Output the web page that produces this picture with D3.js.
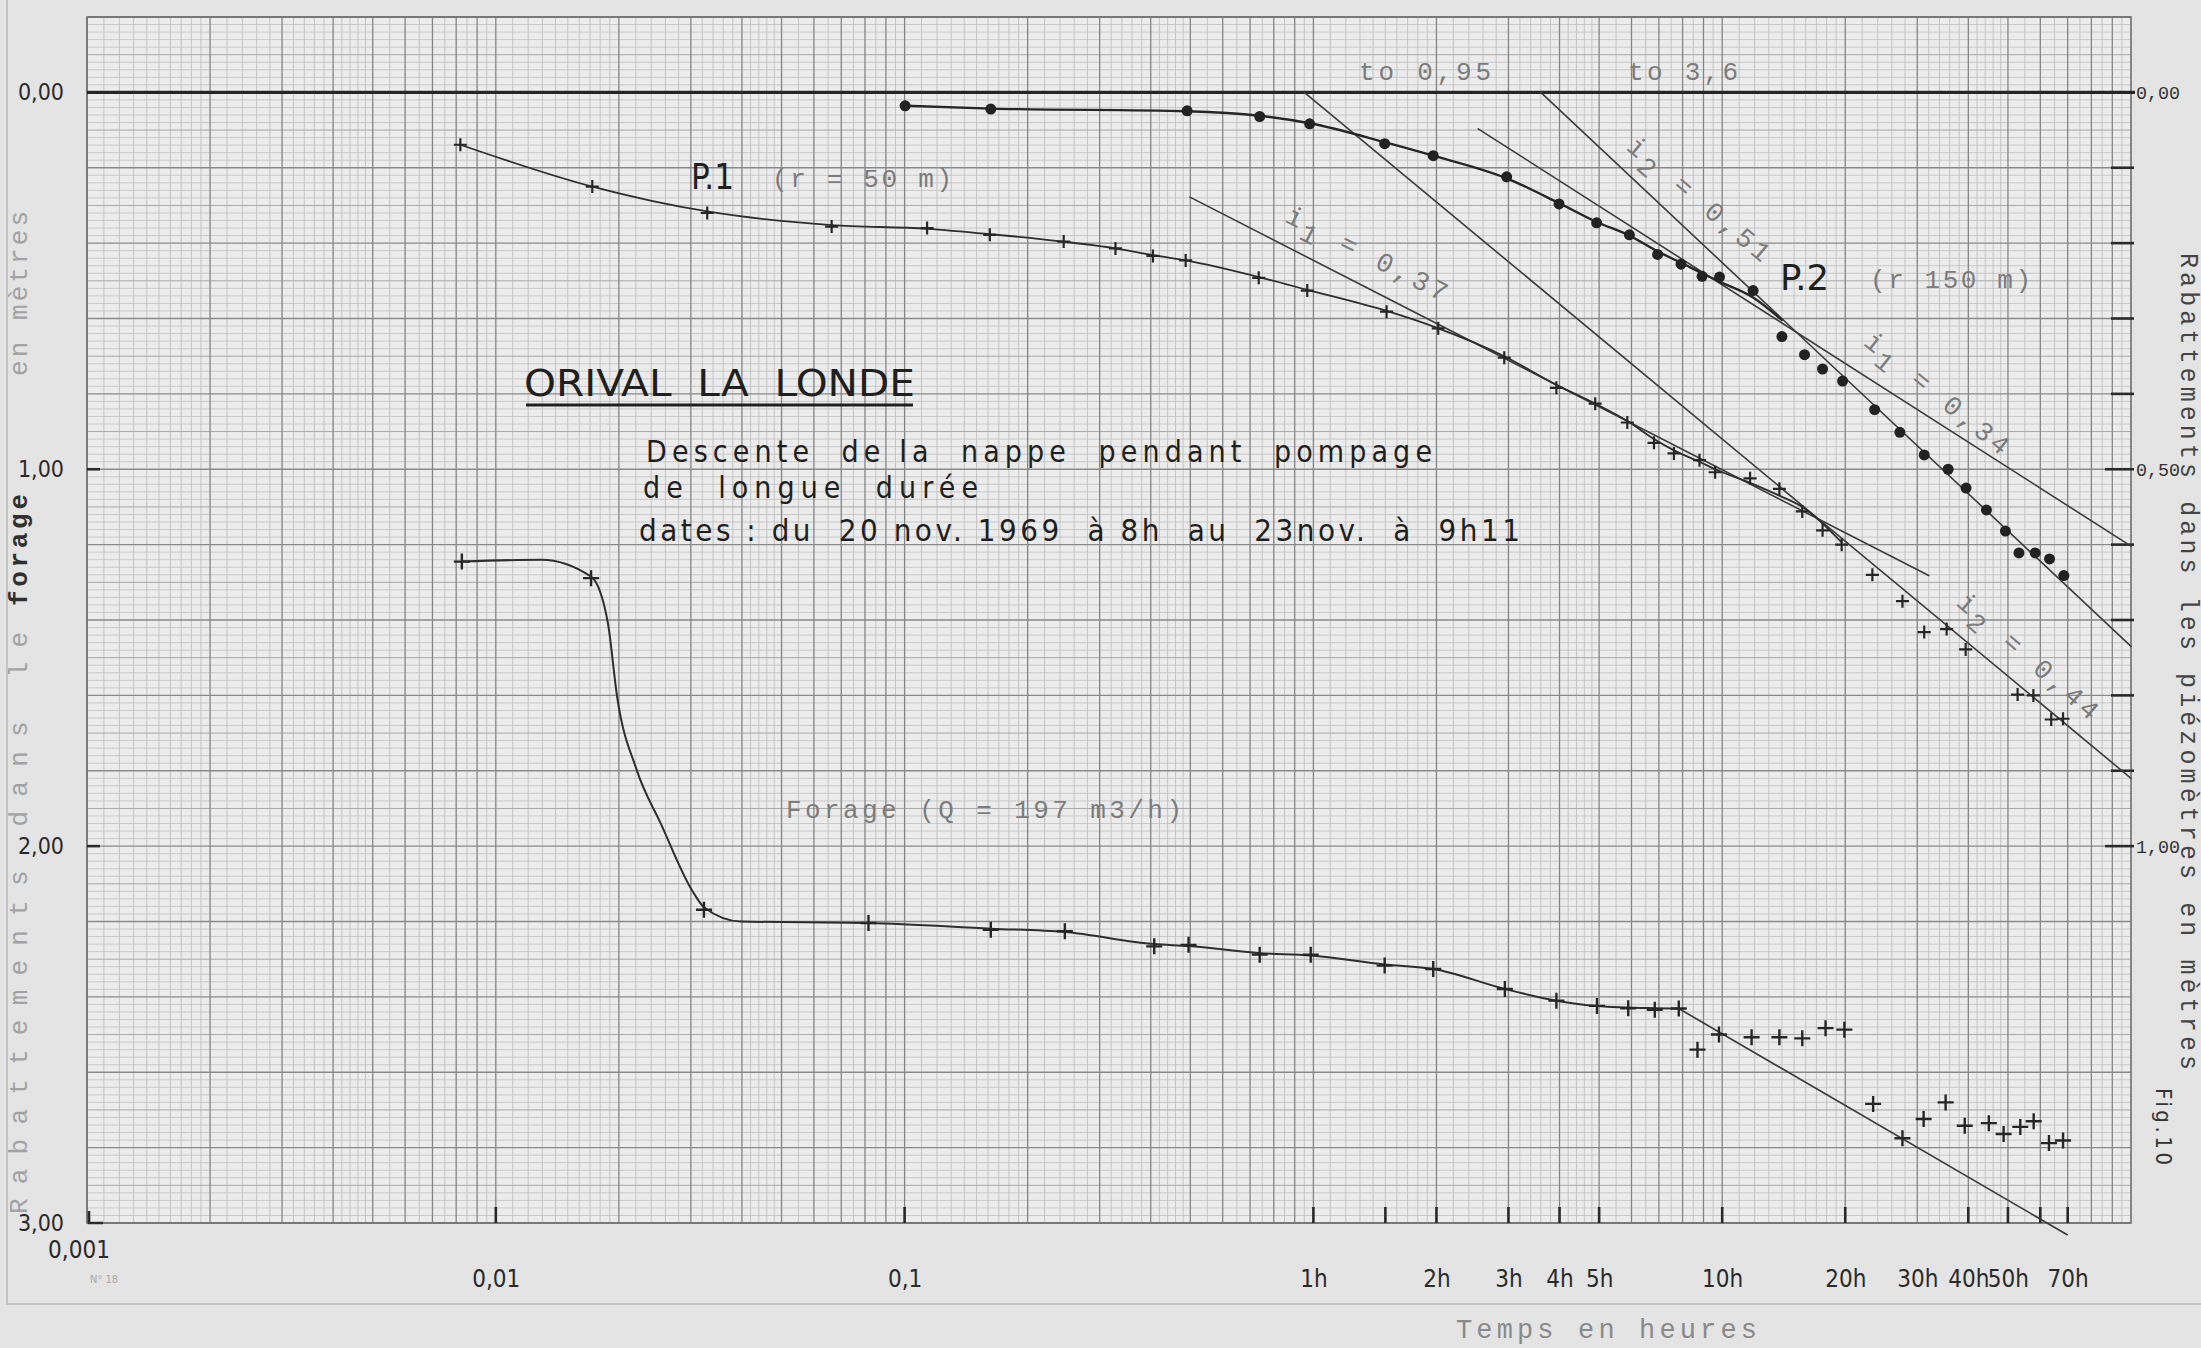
<!DOCTYPE html>
<html>
<head>
<meta charset="utf-8">
<script src="https://cdn.jsdelivr.net/npm/d3@7"></script>
<style>
  body { margin: 0; background: #e4e4e4; }
  svg { display: block; }
  .mono { font-family: 'Liberation Mono', 'DejaVu Sans Mono', monospace; }
  .tech { font-family: 'Liberation Sans Narrow', 'DejaVu Sans Condensed', 'Liberation Sans', sans-serif; }
</style>
</head>
<body>
<div id="chart"></div>
<script>
// ---- data (time in hours, drawdown in metres) ----

// forage : left scale
const forageObs = [[0.00826,1.245],[0.0171,1.289],[0.0323,2.169],[0.0816,2.204],[0.1625,2.222],[0.2466,2.226],
  [0.408,2.266],[0.495,2.262],[0.739,2.288],[0.985,2.288],[1.494,2.317],[1.964,2.326],[2.94,2.379],[3.93,2.410],
  [4.94,2.424],[5.89,2.430],[6.84,2.434],[7.83,2.431],[8.70,2.540],[9.82,2.500],[11.8,2.507],[13.8,2.507],
  [15.7,2.510],[17.9,2.483],[19.9,2.487],[23.4,2.684],[27.6,2.775],[31.1,2.724],[35.2,2.680],[39.2,2.742],
  [44.9,2.735],[48.8,2.764],[53.6,2.745],[57.8,2.730],[63.0,2.788],[68.2,2.781]];
const forageCurve = [[0.00826,1.245],[0.0129,1.240],[0.0171,1.285],[0.0188,1.408],[0.0198,1.603],[0.0221,1.797],
  [0.0253,1.939],[0.0305,2.125],[0.0323,2.162],[0.0398,2.200],[0.0816,2.204],[0.1625,2.219],[0.2466,2.228],
  [0.408,2.260],[0.495,2.265],[0.739,2.284],[0.985,2.290],[1.494,2.314],[1.964,2.326],[2.94,2.379],[3.93,2.410],
  [4.94,2.424],[6.84,2.430],[7.83,2.431]];
const forageLine = [[7.83,2.431],[69.8,3.031]];

// piezometres : right scale
const p1Obs = [[0.00819,0.0695],[0.01722,0.125],[0.0329,0.160],[0.0663,0.178],[0.1135,0.180],[0.1616,0.189],
  [0.245,0.198],[0.328,0.207],[0.405,0.217],[0.487,0.223],[0.735,0.246],[0.966,0.263],[1.51,0.291],[2.02,0.313],
  [2.93,0.352],[3.93,0.392],[4.89,0.413],[5.86,0.438],[6.81,0.465],[7.62,0.479],[8.80,0.488],[9.61,0.504],
  [11.7,0.512],[13.8,0.526],[15.7,0.556],[17.6,0.581],[19.6,0.600],[23.3,0.640],[27.6,0.675],[31.2,0.716],
  [35.4,0.712],[39.4,0.739],[52.8,0.799],[57.7,0.800],[63.8,0.832],[68.2,0.831]];
const p1Curve = [[0.00819,0.0695],[0.01722,0.125],[0.0329,0.158],[0.0663,0.176],[0.1135,0.181],[0.1616,0.188],
  [0.245,0.198],[0.328,0.207],[0.405,0.216],[0.487,0.223],[0.735,0.245],[0.966,0.262],[1.51,0.290],[2.02,0.313],
  [2.93,0.350],[3.93,0.388],[4.89,0.413],[5.86,0.436],[6.81,0.460],[7.62,0.475],[8.80,0.490],[9.61,0.500],
  [11.7,0.518],[13.8,0.535],[15.7,0.550],[19.6,0.597]];

const p2Obs = [[0.1003,0.0178],[0.1625,0.0222],[0.491,0.0244],[0.739,0.032],[0.979,0.0417],[1.494,0.068],
  [1.964,0.084],[2.97,0.112],[3.99,0.148],[4.93,0.173],[5.93,0.189],[6.95,0.215],[7.93,0.228],[8.93,0.244],
  [9.85,0.245],[11.9,0.263],[14.0,0.324],[15.9,0.348],[17.6,0.367],[19.7,0.383],[23.6,0.421],[27.2,0.451],
  [31.2,0.481],[35.7,0.500],[39.5,0.525],[44.3,0.554],[49.3,0.582],[53.2,0.611],[58.3,0.611],[63.2,0.619],
  [68.5,0.641]];
const p2Curve = [[0.1003,0.0178],[0.1625,0.0215],[0.491,0.0250],[0.739,0.031],[0.979,0.041],[1.494,0.066],
  [1.964,0.084],[2.97,0.114],[3.99,0.147],[4.93,0.172],[5.93,0.190],[6.95,0.211],[7.93,0.226],[8.93,0.240],
  [9.85,0.251],[11.9,0.272],[14.0,0.302]];

// straight interpretation lines (right scale)
const t095Line = [[0.95,0],[100,0.910]];
const t36Line = [[3.6,0],[100,0.735]];
const p1Tangent = [[0.499,0.139],[32,0.641]];
const p2Tangent = [[2.53,0.0484],[100,0.602]];

// axes
const bottomTickVals = [0.01,0.1,1,1.5,2,3,4,5,10,20,40,50,60,70];
const bottomLabelVals = [0.01,0.1,1,2,3,4,5,10,20,30,40,50,70];
const bottomLabels = ['0,01','0,1','1h','2h','3h','4h','5h','10h','20h','30h','40h','50h','70h'];
const leftLabelVals = [0,1,2,3];
const leftLabels = ['0,00','1,00','2,00','3,00'];
const rightLabelVals = [0,0.5,1];
const rightLabels = ['0,00','0,50','1,00'];
const rightTickVals = [0.1,0.2,0.3,0.4,0.5,0.6,0.7,0.8,0.9,1.0];

// ---- layout ----
const W = 2201, H = 1348;
const X0 = 87, X1 = 2131, Y0 = 17, Y1 = 1223;

const x = d3.scaleLog().domain([0.001, 100]).range([X0, X1]);
const yL = d3.scaleLinear().domain([-0.2, 3.0]).range([Y0, Y1]);
const yR = d3.scaleLinear().domain([-0.1, 1.5]).range([Y0, Y1]);

const svg = d3.select('#chart').append('svg')
  .attr('width', W).attr('height', H);

svg.append('rect').attr('width', W).attr('height', H).attr('fill', '#e4e4e4');

// paper edge
svg.append('path').attr('d', `M7,0V1304H${W}`).attr('fill', 'none')
  .attr('stroke', '#c4c4c4').attr('stroke-width', 2);

svg.append('rect').attr('x', X0).attr('y', Y0).attr('width', X1 - X0).attr('height', Y1 - Y0)
  .attr('fill', '#ececec');

// ---- log / mm grid ----
const vFine = [], vBold = [];
[0.001, 0.01, 0.1, 1, 10].forEach(d => {
  for (let k = 11; k < 20; k++) vFine.push(k / 10 * d);
  for (let k = 22; k < 50; k += 2) if (k % 10) vFine.push(k / 10 * d);
  for (let k = 55; k < 100; k += 10) vFine.push(k / 10 * d);
  for (let k = 1; k < 10; k++) vBold.push(k * d);
});
const hFine = [], hMid = [], hBold = [];
for (let k = -10; k <= 150; k++) {
  const m = k * 0.02;
  if (k % 10 === 0) hBold.push(m); else if (k % 5 === 0) hMid.push(m); else hFine.push(m);
}

const grid = svg.append('g');
grid.selectAll('.vf').data(vFine).join('line')
  .attr('x1', d => x(d)).attr('x2', d => x(d)).attr('y1', Y0).attr('y2', Y1)
  .attr('stroke', '#bababa').attr('stroke-width', 0.8);
grid.selectAll('.hf').data(hFine).join('line')
  .attr('x1', X0).attr('x2', X1).attr('y1', d => yL(d)).attr('y2', d => yL(d))
  .attr('stroke', '#c0c0c0').attr('stroke-width', 0.8);
grid.selectAll('.hm').data(hMid).join('line')
  .attr('x1', X0).attr('x2', X1).attr('y1', d => yL(d)).attr('y2', d => yL(d))
  .attr('stroke', '#a8a8a8').attr('stroke-width', 1);
grid.selectAll('.hb').data(hBold).join('line')
  .attr('x1', X0).attr('x2', X1).attr('y1', d => yL(d)).attr('y2', d => yL(d))
  .attr('stroke', '#8a8a8a').attr('stroke-width', 1.4);
grid.selectAll('.vb').data(vBold).join('line')
  .attr('x1', d => x(d)).attr('x2', d => x(d)).attr('y1', Y0).attr('y2', Y1)
  .attr('stroke', '#858585').attr('stroke-width', 1.3);

svg.append('rect').attr('x', X0).attr('y', Y0).attr('width', X1 - X0).attr('height', Y1 - Y0)
  .attr('fill', 'none').attr('stroke', '#6e6e6e').attr('stroke-width', 1.6);

// zero line
svg.append('line').attr('x1', X0).attr('x2', X1 + 4).attr('y1', yL(0)).attr('y2', yL(0))
  .attr('stroke', '#262626').attr('stroke-width', 3.2);

// ---- tick marks ----
svg.selectAll('.bt').data(bottomTickVals).join('line')
  .attr('x1', d => x(d)).attr('x2', d => x(d)).attr('y1', Y1).attr('y2', Y1 - 16)
  .attr('stroke', '#2a2a2a').attr('stroke-width', 2.6);
svg.selectAll('.lt').data([1, 2]).join('line')
  .attr('x1', X0).attr('x2', X0 + 13).attr('y1', d => yL(d)).attr('y2', d => yL(d))
  .attr('stroke', '#2a2a2a').attr('stroke-width', 2.6);
svg.append('path').attr('d', `M${X0 + 2},${Y1 - 12}V${Y1}H${X0 + 16}`).attr('fill', 'none')
  .attr('stroke', '#2a2a2a').attr('stroke-width', 2.6);
svg.selectAll('.rt').data(rightTickVals).join('line')
  .attr('x1', d => (d === 0.5 || d === 1.0) ? X1 - 26 : X1 - 20).attr('x2', X1 + 3)
  .attr('y1', d => yR(d)).attr('y2', d => yR(d))
  .attr('stroke', '#2a2a2a').attr('stroke-width', 2.6);

// ---- axis labels (d3 axes, no tick lines) ----
const xAxis = d3.axisBottom(x).tickValues(bottomLabelVals)
  .tickFormat((d, i) => bottomLabels[i]).tickSize(0).tickPadding(47);
const xAxisG = svg.append('g').attr('transform', `translate(0,${Y1})`).call(xAxis);
xAxisG.select('.domain').remove();
xAxisG.selectAll('text').attr('class', 'tech').attr('font-size', 24).attr('fill', '#2a2a2a');

svg.append('text').attr('class', 'tech').attr('x', x(0.001) - 8).attr('y', 1258)
  .attr('text-anchor', 'middle').attr('font-size', 24).attr('fill', '#2a2a2a').text('0,001');
svg.append('text').attr('class', 'tech').attr('x', 90).attr('y', 1283)
  .attr('font-size', 11).attr('fill', '#a8a8a8').text('N° 18');

const yAxisL = d3.axisLeft(yL).tickValues(leftLabelVals)
  .tickFormat((d, i) => leftLabels[i]).tickSize(0).tickPadding(23);
const yAxisLG = svg.append('g').attr('transform', `translate(${X0},0)`).call(yAxisL);
yAxisLG.select('.domain').remove();
yAxisLG.selectAll('text').attr('class', 'tech').attr('font-size', 23).attr('fill', '#2a2a2a');

const yAxisR = d3.axisRight(yR).tickValues(rightLabelVals)
  .tickFormat((d, i) => rightLabels[i]).tickSize(0).tickPadding(5);
const yAxisRG = svg.append('g').attr('transform', `translate(${X1},0)`).call(yAxisR);
yAxisRG.select('.domain').remove();
yAxisRG.selectAll('text').attr('class', 'mono').attr('font-size', 19).attr('fill', '#333')
  .attr('textLength', 44).attr('lengthAdjust', 'spacingAndGlyphs');

// ---- curves and lines ----
const smoothL = d3.line().x(d => x(d[0])).y(d => yL(d[1])).curve(d3.curveMonotoneX);
const smoothR = d3.line().x(d => x(d[0])).y(d => yR(d[1])).curve(d3.curveMonotoneX);
const straightL = d3.line().x(d => x(d[0])).y(d => yL(d[1]));
const straightR = d3.line().x(d => x(d[0])).y(d => yR(d[1]));

const marks = svg.append('g').attr('fill', 'none').attr('stroke-linecap', 'round');

[t095Line, t36Line, p1Tangent, p2Tangent].forEach(l => {
  marks.append('path').attr('d', straightR(l)).attr('stroke', '#3c3c3c').attr('stroke-width', 1.6);
});
marks.append('path').attr('d', straightL(forageLine)).attr('stroke', '#3c3c3c').attr('stroke-width', 1.7);

marks.append('path').attr('d', smoothL(forageCurve)).attr('stroke', '#2e2e2e').attr('stroke-width', 2);
marks.append('path').attr('d', smoothR(p1Curve)).attr('stroke', '#2e2e2e').attr('stroke-width', 1.8);
marks.append('path').attr('d', smoothR(p2Curve)).attr('stroke', '#262626').attr('stroke-width', 2.4);

// crosses
const cross = s => `M${-s},0H${s}M0,${-s}V${s}`;
svg.append('g').selectAll('path').data(forageObs).join('path')
  .attr('transform', d => `translate(${x(d[0])},${yL(d[1])})`)
  .attr('d', cross(8)).attr('stroke', '#262626').attr('stroke-width', 2.4);
svg.append('g').selectAll('path').data(p1Obs).join('path')
  .attr('transform', d => `translate(${x(d[0])},${yR(d[1])})`)
  .attr('d', cross(6.5)).attr('stroke', '#262626').attr('stroke-width', 2.2);
svg.append('g').selectAll('circle').data(p2Obs).join('circle')
  .attr('cx', d => x(d[0])).attr('cy', d => yR(d[1])).attr('r', 5.5).attr('fill', '#222');

// ---- texts ----
function txt(cls, xp, yp, s, size, fill, opts = {}) {
  const t = svg.append('text').attr('class', cls).attr('x', xp).attr('y', yp)
    .attr('font-size', size).attr('fill', fill).style('white-space', 'pre').text(s);
  if (opts.len) t.attr('textLength', opts.len).attr('lengthAdjust', opts.adjust || 'spacing');
  if (opts.weight) t.attr('font-weight', opts.weight);
  if (opts.anchor) t.attr('text-anchor', opts.anchor);
  if (opts.rot !== undefined) t.attr('transform', `rotate(${opts.rot},${xp},${yp})`);
  return t;
}

const ink = '#1f1f1f', typeGrey = '#7c7c7c';

txt('tech', 524, 396, 'ORIVAL  LA  LONDE', 38, ink, {len: 391, adjust: 'spacingAndGlyphs'});
svg.append('line').attr('x1', 526).attr('x2', 913).attr('y1', 405).attr('y2', 405)
  .attr('stroke', ink).attr('stroke-width', 3);
txt('tech', 646, 462, 'Descente  de la  nappe  pendant  pompage', 30, ink, {len: 786});
txt('tech', 643, 498, 'de  longue  durée', 30, ink, {len: 335});
txt('tech', 639, 541, 'dates : du  20 nov. 1969  à 8h  au  23nov.  à  9h11', 31, ink, {len: 881});

txt('tech', 691, 189, 'P.1', 36, ink, {len: 43, adjust: 'spacingAndGlyphs'});
txt('mono', 772, 187, '(r = 50 m)', 26, typeGrey, {len: 180});
txt('tech', 1780, 290, 'P.2', 36, ink, {len: 49, adjust: 'spacingAndGlyphs'});
txt('mono', 1870, 288, '(r 150 m)', 26, typeGrey, {len: 161});
txt('mono', 786, 818, 'Forage (Q = 197 m3/h)', 26, typeGrey, {len: 396});
txt('mono', 1359, 80, 'to 0,95', 26, typeGrey, {len: 132});
txt('mono', 1628, 80, 'to 3,6', 26, typeGrey, {len: 110});
txt('mono', 1456, 1338, 'Temps en heures', 27, '#8a8a8a', {len: 301});

// slope labels along the straight lines
const slopeLabels = [
  {cx: 1369, cy: 254, a: 27, sub: '1', val: ' = 0,37'},
  {cx: 1701, cy: 200, a: 40, sub: '2', val: ' = 0,51'},
  {cx: 1939, cy: 394, a: 39, sub: '1', val: ' = 0,34'},
  {cx: 2030, cy: 657, a: 41, sub: '2', val: ' = 0,44'}
];
slopeLabels.forEach(l => {
  const t = svg.append('text').attr('class', 'mono')
    .attr('transform', `translate(${l.cx},${l.cy}) rotate(${l.a})`)
    .attr('text-anchor', 'middle').attr('dy', '0.35em')
    .attr('font-size', 27).attr('fill', typeGrey).attr('letter-spacing', 4);
  t.append('tspan').text('i');
  t.append('tspan').attr('dy', 9).text(l.sub);
  t.append('tspan').attr('dy', -9).style('white-space', 'pre').text(l.val);
});

// vertical titles
txt('mono', 27, 1214, 'Rabattements dans le', 26, '#a2a2a2', {rot: -90, len: 582});
txt('mono', 27, 606, 'forage', 26, '#303030', {rot: -90, len: 112, weight: 'bold'});
txt('mono', 27, 376, 'en mètres', 26, '#a2a2a2', {rot: -90, len: 165});
txt('mono', 2181, 253, 'Rabattements dans les piézomètres en mètres', 25, '#454545', {rot: 90, len: 817});
txt('tech', 2156, 1088, 'Fig.10', 22, '#333', {rot: 90, len: 77});
</script>
</body>
</html>
